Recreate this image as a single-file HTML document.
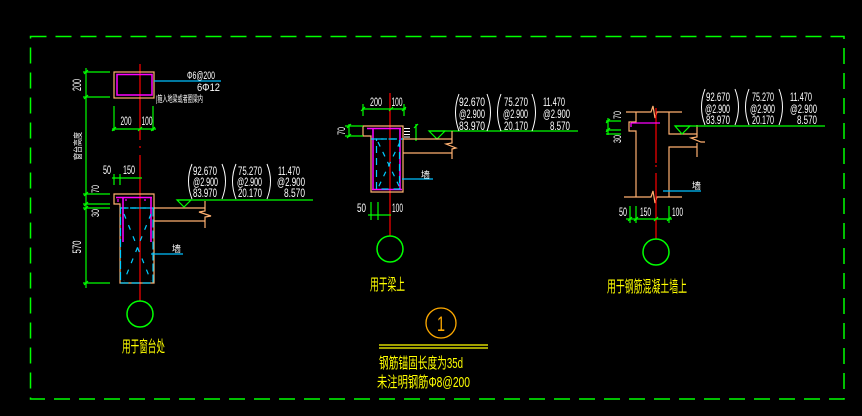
<!DOCTYPE html>
<html><head><meta charset="utf-8"><style>
html,body{margin:0;padding:0;background:#000;}
svg{display:block}
text{font-family:"Liberation Sans","Noto Sans CJK SC",sans-serif;}
</style></head><body>
<svg width="862" height="416" viewBox="0 0 862 416" xmlns="http://www.w3.org/2000/svg">
<rect width="862" height="416" fill="#000"/>
<rect x="30.5" y="36.5" width="813.5" height="362.5" fill="none" stroke="#00ff00" stroke-width="1.5" stroke-dasharray="16 9"/>

<!-- ================= DETAIL 1 ================= -->
<g fill="none" stroke-width="1.2">
  <line x1="140" y1="64" x2="140" y2="140" stroke="#ff0000"/>
  <line x1="140" y1="146" x2="140" y2="148" stroke="#ff0000"/>
  <line x1="140" y1="155" x2="140" y2="301" stroke="#ff0000"/>
  <rect x="114" y="72" width="40" height="26" stroke="#ffb070"/>
  <rect x="117" y="74.5" width="35" height="20.5" stroke="#ff00ff" stroke-width="1.5"/>
  <line x1="154" y1="81" x2="221" y2="81" stroke="#00bfff"/>
  <line x1="86" y1="68" x2="86" y2="288" stroke="#00ff00"/>
  <line x1="83" y1="72" x2="110" y2="72" stroke="#00ff00"/>
  <line x1="83" y1="97" x2="110" y2="97" stroke="#00ff00"/>
  <line x1="83" y1="194" x2="110" y2="194" stroke="#00ff00"/>
  <line x1="83" y1="204" x2="110" y2="204" stroke="#00ff00"/>
  <line x1="83" y1="208" x2="110" y2="208" stroke="#00ff00"/>
  <line x1="83" y1="283" x2="110" y2="283" stroke="#00ff00"/>
  <g stroke="#00ff00">
    <path d="M84,74 L88,70 M84,99 L88,95 M84,196 L88,192 M84,206 L88,202 M84,210 L88,206 M84,285 L88,281"/>
  </g>
  <line x1="112" y1="129" x2="156" y2="129" stroke="#00ff00"/>
  <line x1="114" y1="106" x2="114" y2="131" stroke="#00ff00"/>
  <line x1="153" y1="106" x2="153" y2="131" stroke="#00ff00"/>
  <path d="M112,131 L116,127 M138,131 L142,127 M151,131 L155,127" stroke="#00ff00"/>
  <line x1="112" y1="178" x2="142" y2="178" stroke="#00ff00"/>
  <line x1="114" y1="174" x2="114" y2="185" stroke="#00ff00"/>
  <line x1="120" y1="174" x2="120" y2="185" stroke="#00ff00"/>
  <path d="M114,194 H154 V283 H120 V204 H114 Z" stroke="#ffb070"/>
  <rect x="120.5" y="208" width="32.5" height="75" stroke="#00ccff" stroke-dasharray="8 3"/>
  <line x1="120" y1="208" x2="154" y2="208" stroke="#00ccff" stroke-dasharray="6 4"/>
  <path d="M116,197.5 H152 M123,197 V242 M151,197 V242" stroke="#ff00ff" stroke-width="1.5"/>
  <path d="M118,199 v3 M126,199 v2 M145,199 v2" stroke="#ff00ff"/>
  <path d="M124,214 L151,281 M151,214 L124,281" stroke="#00ccff" stroke-dasharray="5 7"/>
  <path d="M154,208 H205 M154,221 H205" stroke="#ffb070"/>
  <path d="M205,201 V211 L199,212 L211,216 L205,217 V228" stroke="#ffb070"/>
  <line x1="177" y1="200" x2="313" y2="200" stroke="#00ff00"/>
  <path d="M177,200 L191,200 L184,207 Z" stroke="#00ff00"/>
  <line x1="151" y1="254" x2="183" y2="254" stroke="#00bfff"/>
  <circle cx="140" cy="314" r="13" stroke="#00ff00" stroke-width="1.5"/>
  <g stroke="#ffffff" stroke-width="1">
    <path d="M192,164 Q185,181 192,199"/>
    <path d="M222,164 Q229,181 222,199"/>
    <path d="M236,164 Q229,181 236,199"/>
    <path d="M267,164 Q274,181 267,199"/>
  </g>
</g>
<g fill="#ffffff" font-size="12">
  <text x="187" y="79" font-size="11" textLength="28" lengthAdjust="spacingAndGlyphs">Φ6@200</text>
  <text x="197" y="91" font-size="11" textLength="23" lengthAdjust="spacingAndGlyphs">6Φ12</text>
  <text x="156" y="102" font-size="9" textLength="47" lengthAdjust="spacingAndGlyphs">|箍入地梁或者圈梁内</text>
  <text x="126" y="125" text-anchor="middle" textLength="11" lengthAdjust="spacingAndGlyphs">200</text>
  <text x="147" y="125" text-anchor="middle" textLength="11" lengthAdjust="spacingAndGlyphs">100</text>
  <text x="103" y="174" textLength="8" lengthAdjust="spacingAndGlyphs">50</text>
  <text x="123" y="174" textLength="12" lengthAdjust="spacingAndGlyphs">150</text>
  <text transform="translate(81,85) rotate(-90)" text-anchor="middle" textLength="12" lengthAdjust="spacingAndGlyphs">200</text>
  <text transform="translate(81,146) rotate(-90)" text-anchor="middle" font-size="9" textLength="28" lengthAdjust="spacingAndGlyphs">窗台高度</text>
  <text transform="translate(99,189) rotate(-90)" text-anchor="middle" font-size="11" textLength="8" lengthAdjust="spacingAndGlyphs">70</text>
  <text transform="translate(99,213) rotate(-90)" text-anchor="middle" font-size="11" textLength="8" lengthAdjust="spacingAndGlyphs">30</text>
  <text transform="translate(81,247) rotate(-90)" text-anchor="middle" textLength="13" lengthAdjust="spacingAndGlyphs">570</text>
  <text x="172" y="252" font-size="9">墙</text>
  <text x="193" y="175" textLength="24" lengthAdjust="spacingAndGlyphs">92.670</text>
  <text x="193" y="186" textLength="25" lengthAdjust="spacingAndGlyphs">@2.900</text>
  <text x="193" y="197" textLength="24" lengthAdjust="spacingAndGlyphs">83.970</text>
  <text x="238" y="175" textLength="24" lengthAdjust="spacingAndGlyphs">75.270</text>
  <text x="237" y="186" textLength="25" lengthAdjust="spacingAndGlyphs">@2.900</text>
  <text x="238" y="197" textLength="24" lengthAdjust="spacingAndGlyphs">20.170</text>
  <text x="278" y="175" textLength="22" lengthAdjust="spacingAndGlyphs">11.470</text>
  <text x="277" y="186" textLength="28" lengthAdjust="spacingAndGlyphs">@2.900</text>
  <text x="284" y="197" textLength="21" lengthAdjust="spacingAndGlyphs">8.570</text>
</g>
<text x="122" y="352" fill="#ffff00" font-size="16" textLength="43" lengthAdjust="spacingAndGlyphs">用于窗台处</text>

<!-- ================= DETAIL 2 ================= -->
<g fill="none" stroke-width="1.2">
  <line x1="390" y1="93" x2="390" y2="236" stroke="#ff0000"/>
  <line x1="362" y1="109" x2="406" y2="109" stroke="#00ff00"/>
  <path d="M363,104 V116 M404,104 V116" stroke="#00ff00"/>
  <path d="M361,111 L365,107 M389,111 L393,107 M402,111 L406,107" stroke="#00ff00"/>
  <path d="M363,126 H403 V192 H371 V136 H363 Z" stroke="#ffb070"/>
  <path d="M367,128.5 H401 M373,128 V190 M400,128 V190 M372,189.5 H402" stroke="#ff00ff" stroke-width="1.5"/>
  <rect x="376.5" y="139" width="23" height="50" stroke="#00ccff" stroke-dasharray="7 5"/>
  <line x1="371" y1="139" x2="403" y2="139" stroke="#00ccff" stroke-dasharray="6 4"/>
  <path d="M378,142 L400,188 M400,142 L378,188" stroke="#00ccff" stroke-dasharray="5 6"/>
  <path d="M404,128.5 H410 M404,131.5 H410 M404,134.5 H410 M404,137 H410" stroke="#ffffff" stroke-width="1"/>
  <path d="M349,124 V137 M345,126 H363 M345,136 H363" stroke="#00ff00"/>
  <path d="M347,128 L351,124 M347,138 L351,134" stroke="#00ff00"/>
  <path d="M416,124 V141" stroke="#00ff00"/>
  <path d="M414,128 L418,124" stroke="#00ff00"/>
  <line x1="429" y1="131" x2="578" y2="131" stroke="#00ff00"/>
  <path d="M429,131 L445,131 L437,139 Z" stroke="#00ff00"/>
  <path d="M403,139 H452 M403,153 H452" stroke="#ffb070"/>
  <path d="M452,131 V143 L446,144 L456,148 L452,149 V159" stroke="#ffb070"/>
  <line x1="402" y1="179" x2="433" y2="179" stroke="#00bfff"/>
  <line x1="368" y1="215" x2="391" y2="215" stroke="#00ff00"/>
  <path d="M371,202 V220 M378,202 V220" stroke="#00ff00"/>
  <circle cx="390" cy="249" r="13" stroke="#00ff00" stroke-width="1.5"/>
  <circle cx="441" cy="323" r="15" stroke="#ffaa00" stroke-width="1.3"/>
  <path d="M379,345 H488 M379,348 H488" stroke="#ffff00" stroke-width="1.2"/>
  <g stroke="#ffffff" stroke-width="1">
    <path d="M459,94 Q452,112 459,131"/>
    <path d="M487,94 Q494,112 487,131"/>
    <path d="M501,94 Q494,112 501,131"/>
    <path d="M532,94 Q539,112 532,131"/>
  </g>
</g>
<g fill="#ffffff" font-size="12">
  <text x="376" y="106" text-anchor="middle" textLength="12" lengthAdjust="spacingAndGlyphs">200</text>
  <text x="397" y="106" text-anchor="middle" textLength="11" lengthAdjust="spacingAndGlyphs">100</text>
  <text transform="translate(345,131) rotate(-90)" text-anchor="middle" font-size="11" textLength="8" lengthAdjust="spacingAndGlyphs">70</text>
  <text x="357" y="212" textLength="9" lengthAdjust="spacingAndGlyphs">50</text>
  <text x="392" y="212" textLength="11" lengthAdjust="spacingAndGlyphs">100</text>
  <text x="421" y="178" font-size="9">墙</text>
  <text x="459" y="106" textLength="26" lengthAdjust="spacingAndGlyphs">92.670</text>
  <text x="459" y="118" textLength="26" lengthAdjust="spacingAndGlyphs">@2.900</text>
  <text x="459" y="130" textLength="26" lengthAdjust="spacingAndGlyphs">83.970</text>
  <text x="504" y="106" textLength="24" lengthAdjust="spacingAndGlyphs">75.270</text>
  <text x="503" y="118" textLength="25" lengthAdjust="spacingAndGlyphs">@2.900</text>
  <text x="504" y="130" textLength="24" lengthAdjust="spacingAndGlyphs">20.170</text>
  <text x="543" y="106" textLength="22" lengthAdjust="spacingAndGlyphs">11.470</text>
  <text x="543" y="118" textLength="27" lengthAdjust="spacingAndGlyphs">@2.900</text>
  <text x="550" y="130" textLength="20" lengthAdjust="spacingAndGlyphs">8.570</text>
</g>
<text x="370" y="290" fill="#ffff00" font-size="16" textLength="35" lengthAdjust="spacingAndGlyphs">用于梁上</text>
<text x="441" y="331" fill="#ffaa00" font-size="21" text-anchor="middle" textLength="8" lengthAdjust="spacingAndGlyphs">1</text>
<text x="379" y="368" fill="#ffff00" font-size="15" textLength="84" lengthAdjust="spacingAndGlyphs">钢筋锚固长度为35d</text>
<text x="377" y="387" fill="#ffff00" font-size="15" textLength="93" lengthAdjust="spacingAndGlyphs">未注明钢筋Φ8@200</text>

<!-- ================= DETAIL 3 ================= -->
<g fill="none" stroke-width="1.2">
  <path d="M626,112 H651 L653,106 L655,118 L657,112 H682" stroke="#ffb070"/>
  <path d="M624,197 H651 L653,191 L655,203 L657,197 H682" stroke="#ffb070"/>
  <line x1="656" y1="108" x2="656" y2="163" stroke="#ff0000"/>
  <line x1="656" y1="165" x2="656" y2="167" stroke="#ff0000"/>
  <line x1="656" y1="173" x2="656" y2="239" stroke="#ff0000"/>
  <path d="M636,112 V122 H629 V131 H636 V197" stroke="#ffb070"/>
  <path d="M669,112 V134 H697 M669,197 V147 H697" stroke="#ffb070"/>
  <path d="M697,125 V137 L691,138 L701,142 L705,142 M697,143 V157" stroke="#ffb070"/>
  <path d="M631,123 H660 M631,123 V127" stroke="#ff00ff" stroke-width="1.3"/>
  <line x1="675" y1="126" x2="825" y2="126" stroke="#00ff00"/>
  <path d="M675,126 L690,126 L682,134 Z" stroke="#00ff00"/>
  <line x1="663" y1="191" x2="701" y2="191" stroke="#00bfff"/>
  <path d="M608,118 V135 M606,121 H621 M606,130 H621 M606,134 H621" stroke="#00ff00"/>
  <path d="M606,123 L610,119 M606,132 L610,128" stroke="#00ff00"/>
  <line x1="626" y1="219" x2="672" y2="219" stroke="#00ff00"/>
  <path d="M630,206 V223 M636,206 V223 M669,206 V223" stroke="#00ff00"/>
  <path d="M628,221 L632,217 M634,221 L638,217 M654,221 L658,217 M667,221 L671,217" stroke="#00ff00"/>
  <circle cx="656" cy="252" r="13" stroke="#00ff00" stroke-width="1.5"/>
  <g stroke="#ffffff" stroke-width="1">
    <path d="M705,89 Q698,107 705,125"/>
    <path d="M735,89 Q742,107 735,125"/>
    <path d="M749,89 Q742,107 749,125"/>
    <path d="M779,89 Q786,107 779,125"/>
  </g>
</g>
<g fill="#ffffff" font-size="12">
  <text transform="translate(621,115) rotate(-90)" text-anchor="middle" font-size="11" textLength="8" lengthAdjust="spacingAndGlyphs">70</text>
  <text transform="translate(621,139) rotate(-90)" text-anchor="middle" font-size="11" textLength="8" lengthAdjust="spacingAndGlyphs">30</text>
  <text x="619" y="216" textLength="8" lengthAdjust="spacingAndGlyphs">50</text>
  <text x="640" y="216" textLength="11" lengthAdjust="spacingAndGlyphs">150</text>
  <text x="672" y="216" textLength="11" lengthAdjust="spacingAndGlyphs">100</text>
  <text x="692" y="189" font-size="9">墙</text>
  <text x="706" y="101" textLength="24" lengthAdjust="spacingAndGlyphs">92.670</text>
  <text x="705" y="113" textLength="25" lengthAdjust="spacingAndGlyphs">@2.900</text>
  <text x="706" y="124" textLength="24" lengthAdjust="spacingAndGlyphs">83.970</text>
  <text x="752" y="101" textLength="22" lengthAdjust="spacingAndGlyphs">75.270</text>
  <text x="750" y="113" textLength="25" lengthAdjust="spacingAndGlyphs">@2.900</text>
  <text x="752" y="124" textLength="22" lengthAdjust="spacingAndGlyphs">20.170</text>
  <text x="790" y="101" textLength="22" lengthAdjust="spacingAndGlyphs">11.470</text>
  <text x="790" y="113" textLength="27" lengthAdjust="spacingAndGlyphs">@2.900</text>
  <text x="797" y="124" textLength="20" lengthAdjust="spacingAndGlyphs">8.570</text>
</g>
<text x="607" y="292" fill="#ffff00" font-size="16" textLength="80" lengthAdjust="spacingAndGlyphs">用于钢筋混凝土墙上</text>
</svg>
</body></html>
